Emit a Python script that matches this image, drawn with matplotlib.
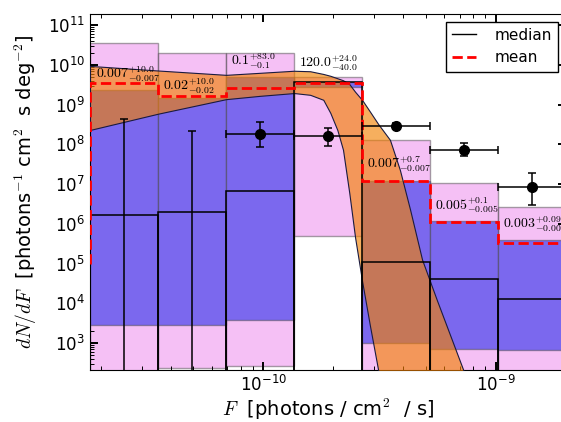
import matplotlib.pyplot as plt
from matplotlib.lines import Line2D
import numpy as np

plt.rcParams['mathtext.fontset'] = 'cm'
plt.rcParams['font.size'] = 12

# flux bin edges [photons / cm^2 / s]
edges = [1.80e-11, 3.52e-11, 6.90e-11, 1.352e-10, 2.65e-10, 5.19e-10, 1.016e-9, 1.99e-9]

# dN/dF summaries per bin
outer_lo = [1e1, 2.3e2, 2.7e2, 4.8e5, 1e1, 1e1, 1e1]
outer_hi = [3.6e10, 2.0e10, 2.0e10, 5.0e9, 1.3e8, 1.07e7, 2.6e6]
inner_lo = [2.8e3, 2.9e3, 3.7e3, 2.8e9, 1.03e3, 6.9e2, 6.6e2]
inner_hi = [2.35e9, 1.48e9, 5.0e9, 3.7e9, 1.23e7, 1.2e6, 3.9e5]
median = [1.7e6, 1.95e6, 6.6e6, 3.7e9, 1.07e5, 4.2e4, 1.3e4]
mean = [3.5e9, 1.6e9, 2.6e9, 3.5e9, 1.23e7, 1.1e6, 3.2e5]

# measured points (first two bins are upper limits only)
obs = [0, 0, 1.85e8, 1.58e8, 2.9e8, 7.2e7, 8.5e6]
obs_lo = [0, 0, 8.6e7, 9.1e7, 2.4e8, 5.1e7, 3.0e6]
obs_hi = [4.4e8, 2.2e8, 3.6e8, 2.6e8, 3.5e8, 1.07e8, 1.95e7]

# bin labels
lab_val = ['0.007', '0.02', '0.1', '120.0', '0.007', '0.005', '0.003']
lab_up = ['10.0', '10.0', '83.0', '24.0', '0.7', '0.1', '0.09']
lab_dn = ['0.007', '0.02', '0.1', '40.0', '0.007', '0.005', '0.003']
lab_y = [5.9e9, 2.9e9, 1.2e10, 1.1e10, 3.1e7, 3.0e6, 9.5e5]

# model band
band_F = [1.80e-11, 3.53e-11, 6.92e-11, 9.68e-11, 1.355e-10, 1.59e-10, 1.81e-10,
          1.94e-10, 2.08e-10, 2.20e-10, 2.34e-10, 2.48e-10, 2.66e-10, 2.87e-10,
          3.11e-10, 3.50e-10, 3.86e-10, 4.27e-10, 4.81e-10, 5.57e-10, 7.21e-10, 8.13e-10]
band_lo = [2.3e8, 5.9e8, 1.37e9, 1.66e9, 1.95e9, 1.76e9, 1.32e9,
           6.2e8, 2.3e8, 7.3e7, 6.1e6, 4.5e5, 3.5e4, 2.8e3,
           2.2e2, 1e1, 1e1, 1e1, 1e1, 1e1, 1e1, 1e1]
band_hi = [9.4e9, 7.2e9, 5.6e9, 6.3e9, 7.1e9, 6.9e9, 5.9e9,
           5.3e9, 4.6e9, 4.1e9, 3.3e9, 2.1e9, 1.3e9, 6.7e8,
           3.3e8, 1.3e8, 2.3e7, 2.3e6, 1.26e5, 1.2e4, 2.2e2, 3.8e1]

edges = np.array(edges)
left = edges[:-1]
width = np.diff(edges)
centers = np.sqrt(edges[:-1] * edges[1:])

fig = plt.figure(figsize=(5.61, 4.22), dpi=100)
ax = fig.add_axes([0.1604, 0.1232, 0.8478, 0.8436])

ax.bar(left, np.array(outer_hi) - np.array(outer_lo), width, bottom=outer_lo, align='edge',
       facecolor=(0.93, 0.51, 0.93, 0.5), edgecolor=(0.3, 0.3, 0.3, 0.5), lw=1, zorder=1)
ax.bar(left, np.array(inner_hi) - np.array(inner_lo), width, bottom=inner_lo, align='edge',
       facecolor='mediumslateblue', edgecolor=(0.3, 0.3, 0.3, 0.5), lw=1, zorder=2)
ax.fill_between(band_F, band_lo, band_hi, facecolor=(0.95, 0.5, 0.0, 0.63),
                edgecolor='#1a1a40', lw=0.8, zorder=3)

# median as open bars, mean as dashed steps
ax.bar(left, median, width, align='edge', fill=False, edgecolor='k', lw=1.1, zorder=4)
ax.stairs(mean, edges, baseline=1e5, color='red', ls='--', lw=2, zorder=5)

yerr = [np.array(obs) - np.array(obs_lo), np.array(obs_hi) - np.array(obs)]
xerr = [centers - left, edges[1:] - centers]
ax.errorbar(centers, obs, yerr=yerr, xerr=xerr, fmt='o', color='k', ms=7,
            capsize=3, elinewidth=1.1, capthick=1.1, zorder=6)

for i in range(len(lab_val)):
    ax.annotate(r'$%s^{+%s}_{-%s}$' % (lab_val[i], lab_up[i], lab_dn[i]),
                xy=(left[i], lab_y[i]), xytext=(4, 0), textcoords='offset points',
                ha='left', va='center', fontsize=10, zorder=7)

ax.set_xscale('log')
ax.set_yscale('log')
ax.set_xlim(edges[0], edges[-1])
ax.set_ylim(2.1e2, 1.9e11)

ax.tick_params(which='both', direction='in', top=True, right=True)
ax.tick_params(which='major', length=6, width=1.4)
ax.tick_params(which='minor', length=3, width=0.7)

ax.set_xlabel(r'$F$  [photons / cm$^2$  / s]', fontsize=14, labelpad=1)
ax.set_ylabel(r'$dN/dF$  [photons$^{-1}$ cm$^2$  s deg$^{-2}$]', fontsize=14, labelpad=6)

handles = [Line2D([], [], color='k', lw=1),
           Line2D([], [], color='red', ls='--', lw=2)]
leg = ax.legend(handles, ['median', 'mean'], loc='upper right', fontsize=11,
                fancybox=False, framealpha=1, edgecolor='k', handlelength=1.6,
                handletextpad=1.2, borderaxespad=0.5)
leg.get_frame().set_linewidth(1)
leg.set_zorder(10)

fig.savefig('out.png', dpi=100)
